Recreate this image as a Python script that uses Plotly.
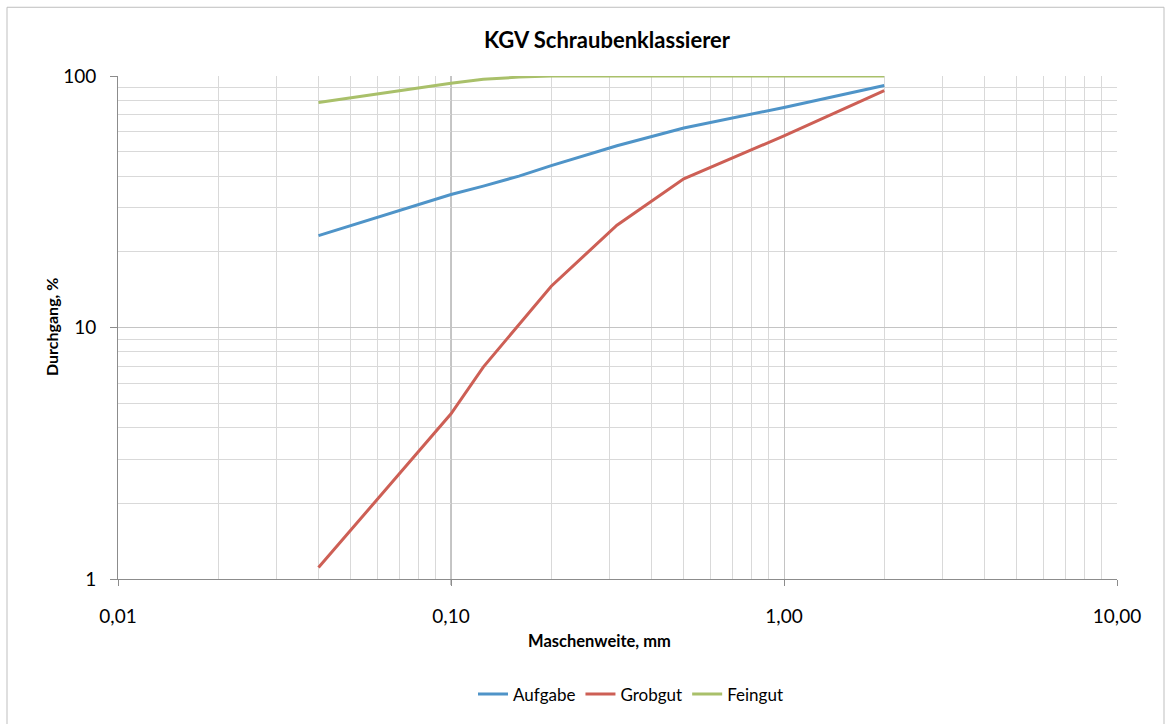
import plotly.graph_objects as go

# Data
maschenweite = [0.04, 0.1, 0.125, 0.16, 0.2, 0.315, 0.5, 1.0, 2.0]
aufgabe = [23.2, 33.8, 36.5, 40.0, 44.0, 52.8, 62.1, 75.0, 91.6]
grobgut = [1.11, 4.54, 6.96, 10.3, 14.6, 25.5, 39.0, 57.8, 87.5]
feingut = [78.4, 93.6, 97.0, 99.0, 100.0, 100.0, 100.0, 100.0, 100.0]

x_tickvals = [0.01, 0.1, 1, 10]
x_ticktext = ["0,01", "0,10", "1,00", "10,00"]
y_tickvals = [1, 10, 100]
y_ticktext = ["1", "10", "100"]

series = [
    ("Aufgabe", aufgabe, "#4f94c8"),
    ("Grobgut", grobgut, "#cd5f55"),
    ("Feingut", feingut, "#a9c06a"),
]

FONT = "Lato, 'Open Sans', sans-serif"

fig = go.Figure()
for name, vals, col in series:
    fig.add_trace(go.Scatter(
        x=maschenweite, y=vals, name=name, mode="lines",
        line=dict(color=col, width=3),
    ))

minor_x = [m * 10 ** e for e in range(-2, 1) for m in range(2, 10)]
minor_y = [m * 10 ** e for e in range(0, 2) for m in range(2, 10)]

fig.update_xaxes(
    type="log", range=[-2, 1],
    tickvals=x_tickvals, ticktext=x_ticktext,
    ticks="outside", ticklen=6, tickcolor="#8c8c8c",
    ticklabelstandoff=14,
    showgrid=True, gridcolor="#c4c4c4", gridwidth=1,
    showline=True, linecolor="#8c8c8c", linewidth=1,
    minor=dict(tickvals=minor_x, showgrid=True, gridcolor="#d9d9d9", ticks=""),
    tickfont=dict(family=FONT, size=19, color="#000000"),
    zeroline=False,
)
fig.update_yaxes(
    type="log", range=[0, 2],
    tickvals=y_tickvals, ticktext=y_ticktext,
    ticks="outside", ticklen=7, tickcolor="#8c8c8c",
    ticklabelstandoff=10,
    showgrid=True, gridcolor="#c4c4c4", gridwidth=1,
    showline=True, linecolor="#8c8c8c", linewidth=1,
    minor=dict(tickvals=minor_y, showgrid=True, gridcolor="#d9d9d9", ticks=""),
    tickfont=dict(family=FONT, size=19, color="#000000"),
    zeroline=False,
)

# darker line at 0,10 as in the original
fig.add_shape(type="line", xref="x", yref="paper", x0=0.1, x1=0.1, y0=-0.012, y1=1,
              line=dict(color="#8c8c8c", width=1), layer="below")
# outer chart border
fig.add_shape(type="rect", xref="paper", yref="paper",
              x0=(7 - 118) / 999, x1=(1164 - 118) / 999,
              y0=(581 - 740) / 505, y1=(581 - 7) / 505,
              line=dict(color="#bfbfbf", width=1), fillcolor="rgba(0,0,0,0)", layer="below")

fig.update_layout(
    width=1173, height=724,
    margin=dict(l=118, r=56, t=76, b=143),
    paper_bgcolor="white", plot_bgcolor="white",
    font=dict(family=FONT, color="#000000"),
    title=dict(text="<b>KGV Schraubenklassierer</b>", x=607 / 1173, xanchor="center",
               y=1 - 40 / 724, yanchor="middle",
               font=dict(family=FONT, size=22, color="#000000")),
    showlegend=True,
    legend=dict(orientation="h", x=(631 - 118) / 999, xanchor="center",
                y=(581 - 697) / 505, yanchor="middle",
                font=dict(family=FONT, size=17, color="#000000"),
                itemwidth=30, tracegroupgap=0),
    annotations=[
        dict(text="<b>Maschenweite, mm</b>", xref="paper", yref="paper",
             x=(599 - 118) / 999, y=(581 - 643) / 505, showarrow=False,
             xanchor="center", yanchor="middle",
             font=dict(family=FONT, size=16.5, color="#000000")),
        dict(text="<b>Durchgang, %</b>", xref="paper", yref="paper",
             x=(51 - 118) / 999, y=(581 - 328) / 505, showarrow=False,
             xanchor="center", yanchor="middle", textangle=-90,
             font=dict(family=FONT, size=16, color="#000000")),
    ],
)

fig.write_html("out.html")
